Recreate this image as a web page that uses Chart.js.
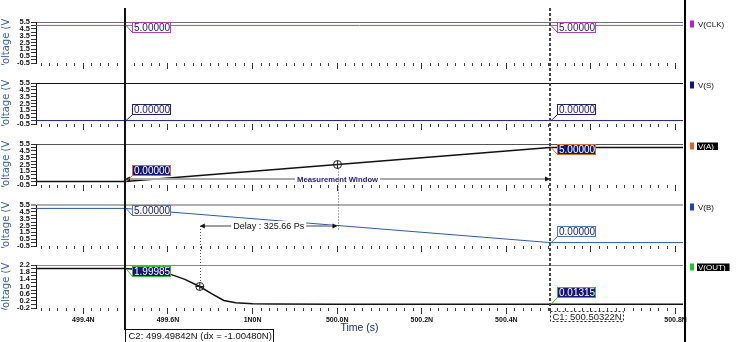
<!DOCTYPE html>
<html><head><meta charset="utf-8">
<script src="https://cdn.jsdelivr.net/npm/chart.js@4.4.1/dist/chart.umd.min.js"></script>
<style>
html,body{margin:0;padding:0;background:#fff;overflow:hidden;}
#wrap{position:relative;width:743px;height:342px;background:#fff;}
#wrap canvas{position:absolute;left:0;top:0;}
</style></head><body><div id="wrap"></div>
<script>
// ---------------- data ----------------
const timeMin = 499.288, timeMax = 500.8175;            // ns
const xMajorTicks = [499.4, 499.6, 499.8, 500.0, 500.2, 500.4, 500.6, 500.8];
const xTickLabels = ['499.4N', '499.6N', '1N0N', '500.0N', '500.2N', '500.4N', '500.6N', '500.8N'];
const xMinorStep = 0.02;
const xTitle = 'Time (s)';
const yTitle = 'Voltage (V)';

const cursorC2 = 499.49842, cursorC1 = 500.50322;
const cursorC2Text = 'C2: 499.49842N (dx = -1.00480N)';
const cursorC1Text = 'C1: 500.50322N';

const seriesNames = ['V(CLK)', 'V(S)', 'V(A)', 'V(B)', 'V(OUT)'];
const clkTime = [499.288, 500.8175];
const clkVolt = [5, 5];
const sTime = [499.288, 500.8175];
const sVolt = [0, 0];
const aTime = [499.288, 499.49842, 500.50322, 500.8175];
const aVolt = [0, 0, 5, 5];
const bTime = [499.288, 499.49842, 500.50322, 500.8175];
const bVolt = [5, 5, 0, 0];
const outTime = [499.288, 499.49842, 499.55, 499.605, 499.64, 499.675, 499.705, 499.732, 499.76, 499.80, 499.85, 500.0, 500.2, 500.50322, 500.8175];
const outVolt = [1.99985, 1.99985, 1.92, 1.69, 1.40, 1.00, 0.58, 0.22, 0.09, 0.04, 0.02, 0.015, 0.014, 0.01315, 0.013];

const valuesAtC2 = ['5.00000', '0.00000', '0.00000', '5.00000', '1.99985'];
const valuesAtC1 = ['5.00000', '0.00000', '5.00000', '0.00000', '0.01315'];

const voltRange = [-0.5, 5.5];
const voltTicks = [-0.5, 0, 0.5, 1, 1.5, 2, 2.5, 3, 3.5, 4, 4.5, 5, 5.5];
const voltTickLabels = ['-0.5', '', '0.5', '', '1.5', '', '2.5', '', '3.5', '', '4.5', '', '5.5'];
const outRange = [-0.2, 2.2];
const outTicks = [-0.2, 0, 0.2, 0.4, 0.6, 0.8, 1.0, 1.2, 1.4, 1.6, 1.8, 2.0, 2.2];
const outTickLabels = ['-0.2', '', '0.2', '', '0.6', '', '1.0', '', '1.4', '', '1.8', '', '2.2'];

// measurement annotations
const measureWindowText = 'Measurement Window';
const measureWindowLevel = 0.35;      // on V(A)
const delayText = 'Delay : 325.66 Ps';
const delayLevel = 2.5;               // on V(B)
const aCrossTime = 500.0008, aCrossLevel = 2.5;
const outCrossTime = 499.6752, outCrossLevel = 1.0;

// ---------------- layout / style ----------------
Chart.defaults.font.family = "'Liberation Sans', Arial, sans-serif";
const W = 743, H = 342, PLOT_L = 36, PLOT_R = 683;
const PANEL_TOP = [22, 83, 144, 205, 265];
const PANEL_H = [41, 41, 41, 41, 43];
const XAXIS_H = [4, 4, 4, 4, 26];
const traceColors = ['#b548b5', '#1c1c7e', '#111111', '#2a5ca6', '#111111'];
const traceWidths = [1, 1, 1.5, 1, 1.5];
const legendColors = ['#c21bc2', '#121290', '#e0601a', '#1a46b0', '#22c422'];
const legendSelected = [false, false, true, false, true];
const topLineColors = ['#707070', '#111111', '#555555', '#b0b0b0', '#8a8a8a'];
const topLineWidths = [1, 1, 1, 2, 1];
const boxFill = ['#ffffff', '#ffffff', '#14147a', '#ffffff', '#14147a'];
const boxText = ['#1a1a70', '#1a1a70', '#ffffff', '#1a1a70', '#ffffff'];
const boxBorder = ['#b040b0', '#202070', '#d07030', '#4a78b8', '#30c030'];

const panelTime = [clkTime, sTime, aTime, bTime, outTime];
const panelVolt = [clkVolt, sVolt, aVolt, bVolt, outVolt];
const panelRange = [voltRange, voltRange, voltRange, voltRange, outRange];
const panelTicks = [voltTicks, voltTicks, voltTicks, voltTicks, outTicks];
const panelTickLabels = [voltTickLabels, voltTickLabels, voltTickLabels, voltTickLabels, outTickLabels];

const xTickVals = [];
for (let k = Math.ceil(timeMin / xMinorStep - 1e-9); k * xMinorStep <= timeMax + 1e-9; k++) {
  xTickVals.push(+(k * xMinorStep).toFixed(2));
}

const charts = [];

function arrowLine(ctx, x1, x2, y, color) {
  ctx.save();
  ctx.strokeStyle = color; ctx.lineWidth = 2;
  ctx.beginPath(); ctx.moveTo(x1 + 2, y); ctx.lineTo(x2 - 2, y); ctx.stroke();
  ctx.fillStyle = '#111';
  ctx.beginPath(); ctx.moveTo(x2, y); ctx.lineTo(x2 - 5, y - 2.5); ctx.lineTo(x2 - 5, y + 2.5); ctx.closePath(); ctx.fill();
  ctx.beginPath(); ctx.moveTo(x1, y); ctx.lineTo(x1 + 5, y - 2.5); ctx.lineTo(x1 + 5, y + 2.5); ctx.closePath(); ctx.fill();
  ctx.restore();
}
function bgText(ctx, text, cx, cy, font, color) {
  ctx.save();
  ctx.font = font;
  const w = ctx.measureText(text).width;
  ctx.fillStyle = '#fff';
  ctx.fillRect(cx - w / 2 - 2, cy - 5, w + 4, 10);
  ctx.fillStyle = color; ctx.textAlign = 'center'; ctx.textBaseline = 'middle';
  ctx.fillText(text, cx, cy + 0.5);
  ctx.restore();
}
function marker(ctx, x, y) {
  ctx.save();
  ctx.strokeStyle = '#222'; ctx.lineWidth = 1;
  ctx.beginPath(); ctx.arc(x, y, 4, 0, Math.PI * 2); ctx.stroke();
  ctx.beginPath(); ctx.moveTo(x - 4, y); ctx.lineTo(x + 4, y); ctx.moveTo(x, y - 4); ctx.lineTo(x, y + 4); ctx.stroke();
  ctx.restore();
}

const overlay = {
  id: 'overlay',
  afterDraw(chart) {
    const ctx = chart.ctx;
    const xs = chart.scales.x;
    const X = t => xs.getPixelForValue(t);
    const C = i => (i === 4 ? chart : charts[i]);
    const ys = i => C(i).scales.y;
    const Y = (i, v) => ys(i).getPixelForValue(v);
    ctx.save();

    // y-axis titles, clipped to each panel
    for (let i = 0; i < 5; i++) {
      const s = ys(i);
      ctx.save();
      ctx.beginPath(); ctx.rect(0, s.top - 3, 20, s.bottom - s.top + 5); ctx.clip();
      ctx.translate(6.5, (s.top + s.bottom) / 2);
      ctx.rotate(-Math.PI / 2);
      ctx.font = '10px "DejaVu Sans"';
      ctx.fillStyle = '#3b62a6';
      ctx.textAlign = 'center'; ctx.textBaseline = 'middle';
      ctx.fillText(yTitle, 0, 0);
      ctx.restore();
    }

    const xC2 = X(cursorC2), xC1 = X(cursorC1);
    // measurement window
    const mwY = Math.round(Y(2, measureWindowLevel));
    arrowLine(ctx, xC2, xC1, mwY, '#a9a9a9');
    bgText(ctx, measureWindowText, (xC2 + xC1) / 2, mwY, 'bold 7.7px "Liberation Sans"', '#23237a');

    // delay measurement
    const dY = Math.round(Y(3, delayLevel));
    const xo = X(outCrossTime), xa = X(aCrossTime);
    const ca = Y(2, aCrossLevel), co = Y(4, outCrossLevel);
    ctx.save();
    ctx.setLineDash([1, 2]); ctx.strokeStyle = '#555'; ctx.lineWidth = 1;
    ctx.beginPath();
    ctx.moveTo(Math.round(xa) + 0.5, ca + 4); ctx.lineTo(Math.round(xa) + 0.5, dY + 5);
    ctx.moveTo(Math.round(xo) + 0.5, dY); ctx.lineTo(Math.round(xo) + 0.5, co - 4);
    ctx.stroke();
    ctx.restore();
    arrowLine(ctx, xo, xa, dY, '#a0a0a0');
    bgText(ctx, delayText, (xo + xa) / 2, dY, '9px "Liberation Sans"', '#111');
    marker(ctx, xa, ca);
    marker(ctx, xo, co);

    // cursors
    ctx.save();
    ctx.strokeStyle = '#111'; ctx.lineWidth = 2;
    ctx.beginPath(); ctx.moveTo(Math.round(xC2), 8); ctx.lineTo(Math.round(xC2), 330); ctx.stroke();
    ctx.strokeStyle = '#444'; ctx.setLineDash([3, 2]);
    ctx.beginPath(); ctx.moveTo(Math.round(xC1), 8); ctx.lineTo(Math.round(xC1), 312); ctx.stroke();
    ctx.restore();

    // value boxes at cursors
    ctx.font = '10px "Liberation Sans"';
    for (let i = 0; i < 5; i++) {
      const s = ys(i);
      const mid = (s.top + s.bottom) / 2;
      [[cursorC2, valuesAtC2[i]], [cursorC1, valuesAtC1[i]]].forEach(([t, txt]) => {
        const v = parseFloat(txt), px = X(t), py = Y(i, v);
        const w = Math.round(ctx.measureText(txt).width) + 2, h = 10;
        const bx = Math.round(px) + 7.5;
        const by = py < mid ? Math.round(py - 3) + 0.5 : Math.round(py - 7 - h) + 0.5;
        ctx.strokeStyle = boxBorder[i]; ctx.lineWidth = 1;
        ctx.beginPath(); ctx.moveTo(px + 1, py); ctx.lineTo(bx, by + h); ctx.stroke();
        ctx.fillStyle = boxFill[i]; ctx.fillRect(bx, by, w, h);
        ctx.strokeRect(bx, by, w, h);
        ctx.fillStyle = boxText[i]; ctx.textAlign = 'left'; ctx.textBaseline = 'middle';
        ctx.fillText(txt, bx + 1.5, by + h / 2 + 0.5);
      });
    }

    // cursor readouts
    ctx.font = '9.5px "Liberation Sans"';
    {
      const w = Math.round(ctx.measureText(cursorC1Text).width) + 4;
      const bx = Math.round(xC1) + 0.5, by = 311.5;
      ctx.fillStyle = '#fff'; ctx.fillRect(bx, by, w, 10);
      ctx.save(); ctx.setLineDash([2, 2]); ctx.strokeStyle = '#333'; ctx.strokeRect(bx, by, w, 10); ctx.restore();
      ctx.fillStyle = '#222'; ctx.textAlign = 'left'; ctx.textBaseline = 'middle';
      ctx.fillText(cursorC1Text, bx + 2, by + 5.5);
    }
    {
      const w = Math.round(ctx.measureText(cursorC2Text).width) + 5;
      const bx = Math.round(xC2) + 0.5, by = 329.5;
      ctx.fillStyle = '#fff'; ctx.fillRect(bx, by, w, 14);
      ctx.strokeStyle = '#111'; ctx.lineWidth = 1; ctx.strokeRect(bx, by, w, 14);
      ctx.fillStyle = '#111'; ctx.textAlign = 'left'; ctx.textBaseline = 'middle';
      ctx.fillText(cursorC2Text, bx + 3, by + 6.5);
    }

    // divider
    ctx.fillStyle = '#000'; ctx.fillRect(684, 0, 2, H);

    // legend
    ctx.font = '8px "Liberation Sans"';
    for (let i = 0; i < 5; i++) {
      const ds = C(i).data.datasets[0];
      const cy = Math.round(ys(i).top + 1.5);
      ctx.fillStyle = legendColors[i]; ctx.fillRect(690, cy - 3.5, 4, 7);
      const tw = ctx.measureText(ds.label).width;
      if (legendSelected[i]) {
        ctx.fillStyle = '#000'; ctx.fillRect(697, cy - 3.5, tw + 5, 7.5);
        ctx.fillStyle = '#fff';
      } else {
        ctx.fillStyle = '#111';
      }
      ctx.textAlign = 'left'; ctx.textBaseline = 'middle';
      ctx.fillText(ds.label, 698, cy + 0.5);
    }
    ctx.restore();
  }
};

const wrap = document.getElementById('wrap');
for (let i = 0; i < 5; i++) {
  const cv = document.createElement('canvas');
  cv.width = W; cv.height = H;
  wrap.appendChild(cv);
  const [yMin, yMax] = panelRange[i];
  const cfg = {
    type: 'line',
    data: {
      datasets: [{
        label: seriesNames[i],
        data: panelTime[i].map((t, k) => ({ x: t, y: panelVolt[i][k] })),
        borderColor: traceColors[i], borderWidth: traceWidths[i],
        pointRadius: 0, tension: 0, fill: false,
        xAxisID: 'x', yAxisID: 'y'
      }]
    },
    options: {
      responsive: false, animation: false, devicePixelRatio: 1, events: [],
      layout: { padding: { left: 0, right: W - PLOT_R, top: PANEL_TOP[i], bottom: H - PANEL_TOP[i] - PANEL_H[i] - XAXIS_H[i] } },
      plugins: { legend: { display: false }, tooltip: { enabled: false } },
      scales: {
        x: {
          type: 'linear', position: 'bottom', min: timeMin, max: timeMax, bounds: 'data',
          afterBuildTicks: s => { s.ticks = xTickVals.map(v => ({ value: v })); },
          afterFit: s => { s.height = XAXIS_H[i]; },
          ticks: {
            display: i === 4, autoSkip: false, maxRotation: 0, minRotation: 0, padding: 5,
            font: { size: 7, weight: 'bold' }, color: '#111',
            callback: v => { const k = xMajorTicks.findIndex(m => Math.abs(m - v) < 1e-6); return k >= 0 ? xTickLabels[k] : ''; }
          },
          grid: { drawOnChartArea: false, tickLength: 3, tickColor: '#444', tickWidth: 1, color: '#444' },
          border: { display: false },
          title: { display: i === 4, text: xTitle, color: '#1d2b70', font: { size: 10.5 }, padding: 0 }
        },
        xMaj: {
          type: 'linear', position: 'bottom', weight: -1, min: timeMin, max: timeMax, bounds: 'data',
          afterBuildTicks: s => { s.ticks = xMajorTicks.map(v => ({ value: v })); },
          afterFit: s => { s.height = 0; },
          ticks: { display: false },
          grid: { drawOnChartArea: false, tickLength: 6, tickColor: '#333', tickWidth: 1, color: '#333' },
          border: { display: false }
        },
        y: {
          type: 'linear', position: 'left', min: yMin, max: yMax, bounds: 'data',
          afterBuildTicks: s => { s.ticks = panelTicks[i].map(v => ({ value: v })); },
          afterFit: s => { s.width = PLOT_L; },
          ticks: {
            autoSkip: false, padding: 1, font: { size: 7.5, weight: 'bold' }, color: '#111',
            callback: (v, idx) => panelTickLabels[i][idx]
          },
          grid: {
            drawOnChartArea: true,
            color: c => (c.tick && Math.abs(c.tick.value - yMax) < 1e-9) ? topLineColors[i] : 'rgba(0,0,0,0)',
            lineWidth: c => (c.tick && Math.abs(c.tick.value - yMax) < 1e-9) ? topLineWidths[i] : 1,
            tickLength: 5, tickColor: '#333', tickWidth: 1
          },
          border: { display: true, color: '#111', width: 1 }
        }
      }
    },
    plugins: i === 4 ? [overlay] : []
  };
  charts.push(new Chart(cv.getContext('2d'), cfg));
}
</script></body></html>
